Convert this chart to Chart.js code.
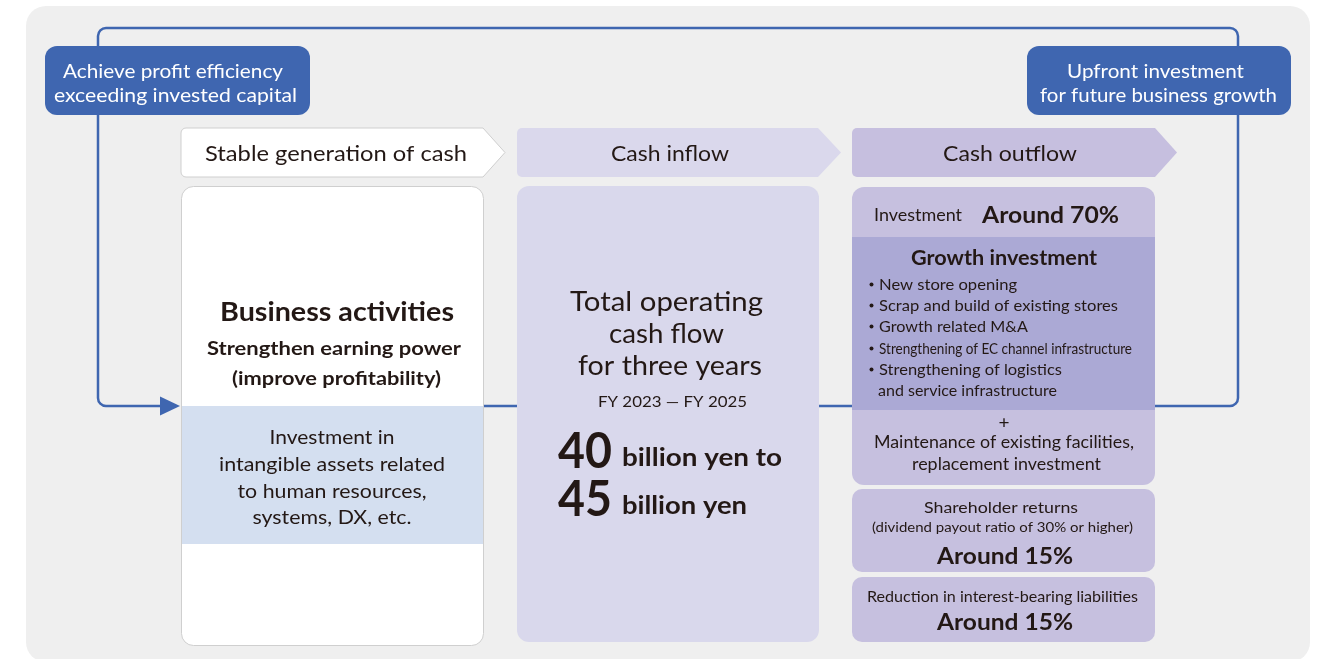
<!DOCTYPE html>
<html>
<head>
<meta charset="utf-8">
<script src="https://cdn.jsdelivr.net/npm/chart.js@4.4.1/dist/chart.umd.min.js"></script>
<style>
html,body{margin:0;padding:0;background:#ffffff;}
#wrap{width:1322px;height:659px;position:relative;}
canvas{display:block;}
</style>
</head>
<body>
<div id="wrap"><canvas id="c" width="1322" height="659"></canvas></div>
<script>
// ---- data ----
const flowStages = ['Stable generation of cash', 'Cash inflow', 'Cash outflow'];
const loopLabels = [['Achieve profit efficiency', 'exceeding invested capital'], ['Upfront investment', 'for future business growth']];
const outflowCategories = ['Investment', 'Shareholder returns', 'Reduction in interest-bearing liabilities'];
const outflowShares = [70, 15, 15];
const cashFlowRange = [40, 45];
const periodLabels = ['FY 2023', 'FY 2025'];
const businessLines = ['Business activities', 'Strengthen earning power', '(improve profitability)'];
const intangibleLines = ['Investment in', 'intangible assets related', 'to human resources,', 'systems, DX, etc.'];
const inflowLines = ['Total operating', 'cash flow', 'for three years'];
const growthTitle = 'Growth investment';
const growthItems = ['New store opening', 'Scrap and build of existing stores', 'Growth related M&A', 'Strengthening of EC channel infrastructure', 'Strengthening of logistics', 'and service infrastructure'];
const maintenanceLines = ['Maintenance of existing facilities,', 'replacement investment'];
const dividendNote = '(dividend payout ratio of 30% or higher)';

// ---- drawing helpers ----
const FONT = 'Lato, "Noto Sans", sans-serif';
const INK = '#231815';
const BLUE = '#3f66b0';

function rrect(ctx, x0, y0, x1, y1, r) {
  ctx.beginPath();
  ctx.moveTo(x0 + r, y0);
  ctx.lineTo(x1 - r, y0);
  ctx.arcTo(x1, y0, x1, y0 + r, r);
  ctx.lineTo(x1, y1 - r);
  ctx.arcTo(x1, y1, x1 - r, y1, r);
  ctx.lineTo(x0 + r, y1);
  ctx.arcTo(x0, y1, x0, y1 - r, r);
  ctx.lineTo(x0, y0 + r);
  ctx.arcTo(x0, y0, x0 + r, y0, r);
  ctx.closePath();
}
function chevron(ctx, x0, y0, x1, xp, y1, r) {
  ctx.beginPath();
  ctx.moveTo(x0 + r, y0);
  ctx.lineTo(x1, y0);
  ctx.lineTo(xp, (y0 + y1) / 2);
  ctx.lineTo(x1, y1);
  ctx.lineTo(x0 + r, y1);
  ctx.arcTo(x0, y1, x0, y1 - r, r);
  ctx.lineTo(x0, y0 + r);
  ctx.arcTo(x0, y0, x0 + r, y0, r);
  ctx.closePath();
}
function txt(ctx, s, x, y, size, weight, w, align, color, baseline) {
  ctx.save();
  ctx.font = weight + ' ' + size + 'px ' + FONT;
  const m = ctx.measureText(s).width;
  const sx = w ? w / m : 1;
  const bl = baseline || 'middle';
  ctx.translate(x, bl === 'middle' ? y + 1.5 : y);
  ctx.scale(sx, 1);
  ctx.textAlign = align || 'center';
  ctx.textBaseline = bl;
  ctx.fillStyle = color || INK;
  ctx.fillText(s, 0, 0);
  ctx.restore();
}

const diagramPlugin = {
  id: 'diagram',
  beforeDraw(chart) {
    const ctx = chart.ctx;
    ctx.save();
    // page background
    ctx.fillStyle = '#ffffff';
    ctx.fillRect(0, 0, 1322, 659);
    ctx.fillStyle = '#efefef';
    rrect(ctx, 26, 6, 1310, 662, 20);
    ctx.fill();

    // loop line
    ctx.strokeStyle = BLUE;
    ctx.lineWidth = 2.5;
    const r = 8;
    ctx.beginPath();
    ctx.moveTo(162, 406);
    ctx.lineTo(98 + r, 406);
    ctx.arcTo(98, 406, 98, 406 - r, r);
    ctx.lineTo(98, 28 + r);
    ctx.arcTo(98, 28, 98 + r, 28, r);
    ctx.lineTo(1238 - r, 28);
    ctx.arcTo(1238, 28, 1238, 28 + r, r);
    ctx.lineTo(1238, 406 - r);
    ctx.arcTo(1238, 406, 1238 - r, 406, r);
    ctx.lineTo(1150, 406);
    ctx.stroke();
    ctx.beginPath();
    ctx.moveTo(484, 406); ctx.lineTo(520, 406);
    ctx.moveTo(815, 406); ctx.lineTo(855, 406);
    ctx.stroke();
    ctx.fillStyle = BLUE;
    ctx.beginPath();
    ctx.moveTo(160, 396.5); ctx.lineTo(180, 406); ctx.lineTo(160, 415.5); ctx.closePath();
    ctx.fill();

    // loop labels
    ctx.fillStyle = BLUE;
    rrect(ctx, 45, 46, 310, 115, 12); ctx.fill();
    rrect(ctx, 1027, 46, 1291, 115, 12); ctx.fill();
    txt(ctx, loopLabels[0][0], 173, 70, 19, 400, 220, 'center', '#ffffff');
    txt(ctx, loopLabels[0][1], 175.5, 94, 19, 400, 243, 'center', '#ffffff');
    txt(ctx, loopLabels[1][0], 1155.5, 70, 19, 400, 177, 'center', '#ffffff');
    txt(ctx, loopLabels[1][1], 1158.5, 94, 19, 400, 237, 'center', '#ffffff');

    // stage chevrons
    ctx.fillStyle = '#ffffff';
    chevron(ctx, 181, 128, 483, 505, 177, 5); ctx.fill();
    ctx.strokeStyle = '#cfcfcf'; ctx.lineWidth = 1; ctx.stroke();
    ctx.fillStyle = '#dad8ec';
    chevron(ctx, 517, 128, 818, 841, 177, 5); ctx.fill();
    ctx.fillStyle = '#c6bfdf';
    chevron(ctx, 852, 128, 1155, 1177, 177, 5); ctx.fill();
    txt(ctx, flowStages[0], 336, 153, 21, 400, 262);
    txt(ctx, flowStages[1], 670, 153, 21, 400, 118);
    txt(ctx, flowStages[2], 1010, 153, 21, 400, 134);

    // column 1
    ctx.fillStyle = '#ffffff';
    rrect(ctx, 181.5, 186.5, 483.5, 645.5, 12); ctx.fill();
    ctx.strokeStyle = '#cfcfcf'; ctx.lineWidth = 1; ctx.stroke();
    ctx.fillStyle = '#d4dff0';
    ctx.fillRect(182, 406, 301, 138);
    txt(ctx, businessLines[0], 337, 311, 26, 700, 234);
    txt(ctx, businessLines[1], 334, 347, 19, 700, 254);
    txt(ctx, businessLines[2], 336.5, 377, 19, 700, 209);
    const iy = [436, 463, 490, 516];
    const iw = [125, 226, 189, 159];
    intangibleLines.forEach((s, i) => txt(ctx, s, 332, iy[i], 19, 400, iw[i]));

    // column 2
    ctx.fillStyle = '#d9d8ec';
    rrect(ctx, 517, 186, 819, 642, 12); ctx.fill();
    const ty = [301, 333, 365];
    const tw = [193, 115, 184];
    const tx = [666.5, 666.5, 670];
    inflowLines.forEach((s, i) => txt(ctx, s, tx[i], ty[i], 27, 400, tw[i]));
    txt(ctx, periodLabels[0] + ' \u2014 ' + periodLabels[1], 672.5, 401, 15, 400, 149);
    txt(ctx, String(cashFlowRange[0]), 558, 468, 50, 700, 54, 'left', INK, 'alphabetic');
    txt(ctx, 'billion yen to', 622, 466, 25, 700, 160, 'left', INK, 'alphabetic');
    txt(ctx, String(cashFlowRange[1]), 558, 516, 50, 700, 54, 'left', INK, 'alphabetic');
    txt(ctx, 'billion yen', 622, 514, 25, 700, 125, 'left', INK, 'alphabetic');

    // column 3 - investment
    ctx.fillStyle = '#c6c0df';
    rrect(ctx, 852, 187, 1155, 485, 12); ctx.fill();
    ctx.fillStyle = '#aba9d5';
    ctx.fillRect(852, 237, 303, 173);
    txt(ctx, outflowCategories[0], 874, 214, 17, 400, 88, 'left');
    txt(ctx, 'Around ' + outflowShares[0] + '%', 982, 214, 23, 700, 137, 'left');
    txt(ctx, growthTitle, 1004, 257, 20, 700, 186);
    const gy = [283, 304, 325, 347, 368, 389];
    const gw = [138, 239, 149, 253, 183, 179];
    growthItems.forEach((s, i) => {
      if (i < 5) {
        ctx.fillStyle = INK;
        ctx.beginPath(); ctx.arc(871.5, gy[i] + 1.5, 2, 0, Math.PI * 2); ctx.fill();
      }
      txt(ctx, s, i < 5 ? 879 : 878, gy[i], 16, 400, gw[i], 'left');
    });
    txt(ctx, '+', 1004, 422, 17, 400, 11);
    txt(ctx, maintenanceLines[0], 1004, 441, 17, 400, 260);
    txt(ctx, maintenanceLines[1], 1006.5, 463, 17, 400, 189);

    // column 3 - shareholder returns
    ctx.fillStyle = '#c6c0df';
    rrect(ctx, 852, 489, 1155, 572, 10); ctx.fill();
    txt(ctx, outflowCategories[1], 1001, 506, 16, 400, 154);
    txt(ctx, dividendNote, 1002.5, 526, 13.5, 400, 261);
    txt(ctx, 'Around ' + outflowShares[1] + '%', 1005, 555, 23, 700, 136);

    // column 3 - debt reduction
    ctx.fillStyle = '#c6c0df';
    rrect(ctx, 852, 577, 1155, 642, 10); ctx.fill();
    txt(ctx, outflowCategories[2], 1002.5, 595, 16, 400, 271);
    txt(ctx, 'Around ' + outflowShares[2] + '%', 1005, 621, 23, 700, 136);

    ctx.restore();
  }
};

new Chart(document.getElementById('c'), {
  type: 'bar',
  data: {
    labels: outflowCategories,
    datasets: [{ label: 'Cash outflow share (%)', data: outflowShares, backgroundColor: 'rgba(0,0,0,0)', borderWidth: 0 }]
  },
  options: {
    responsive: false,
    devicePixelRatio: 1,
    animation: false,
    layout: { padding: 0 },
    scales: { x: { display: false }, y: { display: false, min: 0, max: 100 } },
    plugins: { legend: { display: false }, tooltip: { enabled: false } }
  },
  plugins: [diagramPlugin]
});
</script>
</body>
</html>
